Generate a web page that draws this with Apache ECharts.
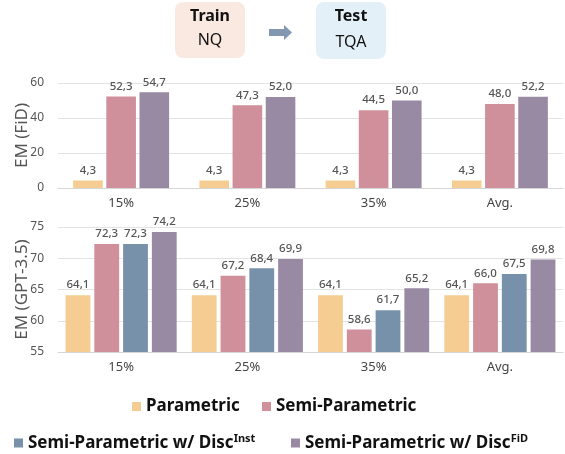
<!DOCTYPE html>
<html><head><meta charset="utf-8">
<script src="https://cdn.jsdelivr.net/npm/echarts@6/dist/echarts.min.js"></script>
<style>html,body{margin:0;padding:0;background:#fff}#c{width:565px;height:454px}</style>
</head><body><div id="c"></div>
<script>
const categories = ['15%', '25%', '35%', 'Avg.'];
// Top chart: EM (FiD)
const fidParametric = [4.3, 4.3, 4.3, 4.3];
const fidSemi = [52.3, 47.3, 44.5, 48.0];
const fidDiscFiD = [54.7, 52.0, 50.0, 52.2];
// Bottom chart: EM (GPT-3.5)
const gptParametric = [64.1, 64.1, 64.1, 64.1];
const gptSemi = [72.3, 67.2, 58.6, 66.0];
const gptDiscInst = [72.3, 68.4, 61.7, 67.5];
const gptDiscFiD = [74.2, 69.9, 65.2, 69.8];

const NAME_P = 'Parametric', NAME_S = 'Semi-Parametric', NAME_I = 'Semi-Parametric w/ DiscInst', NAME_F = 'Semi-Parametric w/ DiscFiD';
const COL = {p: '#f5cd92', s: '#cf8f9b', i: '#7791ab', f: '#998aa3'};
const FONT = 'Noto Sans, sans-serif';

const labelCfg = {show: true, position: 'top', distance: 4, color: '#555', fontSize: 11.5, fontWeight: 500, fontFamily: FONT,
  formatter: p => p.value.toFixed(1).replace('.', ',')};

function bar(name, data, color, idx, extra) {
  return Object.assign({type: 'bar', name, data, xAxisIndex: idx, yAxisIndex: idx,
    itemStyle: {color}, label: labelCfg}, extra || {});
}

const chart = echarts.init(document.getElementById('c'), null, {renderer: 'canvas'});
const xAxisBase = {type: 'category', data: categories,
  axisLine: {lineStyle: {color: '#d6d6d6'}}, axisTick: {show: false},
  axisLabel: {color: '#444', fontSize: 13, fontFamily: FONT, margin: 9}};
const yAxisBase = {type: 'value', nameLocation: 'middle', nameGap: 27, nameMoveOverlap: false,
  nameTextStyle: {color: '#555', fontSize: 17, fontFamily: FONT},
  axisLine: {show: false}, axisTick: {show: false},
  axisLabel: {color: '#555', fontSize: 12, fontFamily: FONT, margin: 14},
  splitLine: {lineStyle: {color: '#e3e3e3'}}};

const legTxt = {color: '#111', fontSize: 17, fontWeight: 'bold', fontFamily: FONT,
  rich: {a: {fontSize: 17, fontWeight: 'bold', color: '#111', fontFamily: FONT},
         s: {fontSize: 11, fontWeight: 'bold', color: '#111', fontFamily: FONT, verticalAlign: 'top', padding: [0, 0, 9, 0]}}};
function leg(name, left, top) {
  return {data: [name], left, top, itemWidth: 9, itemHeight: 9, icon: 'rect', itemGap: 6, textStyle: legTxt,
    formatter: n => n === NAME_I ? '{a|Semi-Parametric w/ Disc}{s|Inst}' : n === NAME_F ? '{a|Semi-Parametric w/ Disc}{s|FiD}' : n};
}

chart.setOption({
  animation: false,
  grid: [
    {left: 58, right: 2, top: 83, bottom: 266},
    {left: 58, right: 2, top: 227, bottom: 102}
  ],
  xAxis: [Object.assign({gridIndex: 0}, xAxisBase), Object.assign({gridIndex: 1}, xAxisBase)],
  yAxis: [
    Object.assign({}, yAxisBase, {gridIndex: 0, min: 0, max: 60, interval: 20, name: 'EM (FiD)'}),
    Object.assign({}, yAxisBase, {gridIndex: 1, min: 55, max: 75, interval: 5, name: 'EM (GPT-3.5)'})
  ],
  legend: [
    leg(NAME_P, 127, 393),
    leg(NAME_S, 257, 393),
    leg(NAME_I, 9, 428),
    leg(NAME_F, 286, 428)
  ],
  series: [
    bar(NAME_P, fidParametric, COL.p, 0, {barCategoryGap: '24%', barGap: '12%'}),
    bar(NAME_S, fidSemi, COL.s, 0),
    bar(NAME_F, fidDiscFiD, COL.f, 0),
    bar(NAME_P, gptParametric, COL.p, 1, {barCategoryGap: '12%', barGap: '16%'}),
    bar(NAME_S, gptSemi, COL.s, 1),
    bar(NAME_I, gptDiscInst, COL.i, 1),
    bar(NAME_F, gptDiscFiD, COL.f, 1)
  ],
  graphic: [
    {type: 'rect', shape: {x: 175, y: 2, width: 70, height: 56, r: 8}, style: {fill: '#f9e9e1'}},
    {type: 'text', x: 210, y: 16, style: {text: 'Train', fill: '#111', font: 'bold 16px Noto Sans, sans-serif', textAlign: 'center', textVerticalAlign: 'middle'}},
    {type: 'text', x: 210, y: 40, style: {text: 'NQ', fill: '#111', font: '16px Noto Sans, sans-serif', textAlign: 'center', textVerticalAlign: 'middle'}},
    {type: 'polygon', shape: {points: [[269, 29], [284, 29], [284, 25], [292, 32.5], [284, 40], [284, 36], [269, 36]]}, style: {fill: '#8497b0'}},
    {type: 'rect', shape: {x: 316, y: 2, width: 70, height: 57, r: 8}, style: {fill: '#e4f0f8'}},
    {type: 'text', x: 351, y: 16, style: {text: 'Test', fill: '#111', font: 'bold 16px Noto Sans, sans-serif', textAlign: 'center', textVerticalAlign: 'middle'}},
    {type: 'text', x: 351, y: 42, style: {text: 'TQA', fill: '#111', font: '16px Noto Sans, sans-serif', textAlign: 'center', textVerticalAlign: 'middle'}}
  ]
});
</script></body></html>
